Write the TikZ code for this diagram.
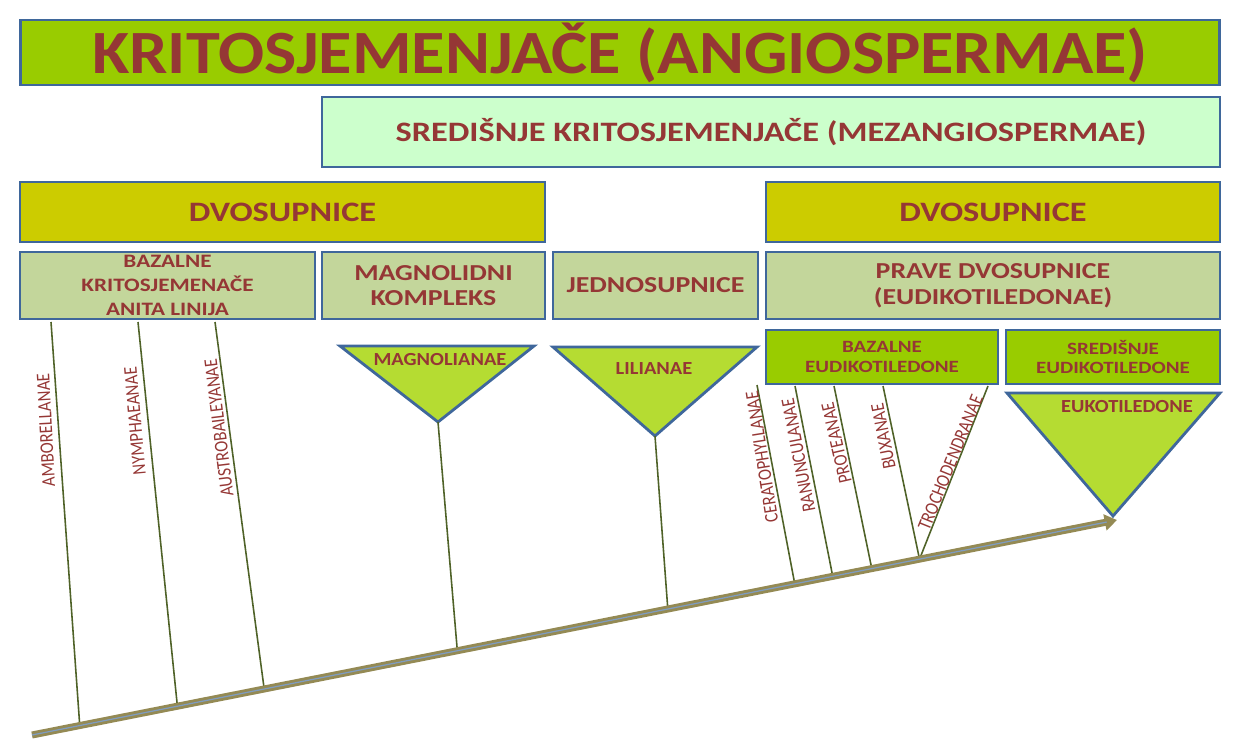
\documentclass[tikz,border=0pt]{standalone}
\usepackage{fontspec}
\setmainfont{Carlito}
\newfontfamily\widefont{Carlito}[FakeStretch=1.22]
\newfontfamily\midfont{Carlito}[FakeStretch=1.11]
\newfontfamily\narrowfont{Carlito}[FakeStretch=0.86]
\usetikzlibrary{arrows.meta}
\definecolor{txtred}{HTML}{953735}
\definecolor{edgeblue}{HTML}{3F679B}
\definecolor{limegreen}{HTML}{99CC00}
\definecolor{mintgreen}{HTML}{CCFFCC}
\definecolor{olivebox}{HTML}{CCCC00}
\definecolor{sagegreen}{HTML}{C3D69B}
\definecolor{trigreen}{HTML}{B5DC32}
\definecolor{stemgreen}{HTML}{4F6228}
\definecolor{axisbrown}{HTML}{948A54}
\definecolor{axisblue}{HTML}{7F9CC0}
\begin{document}
\begin{tikzpicture}[x=0.02cm, y=-0.02cm,
  every node/.style={text=txtred, font=\bfseries},
  box/.style={draw=edgeblue, line width=1.6pt, inner sep=0pt, align=center},
  stem/.style={stemgreen, line width=0.9pt},
  taxon/.style={font=\narrowfont\fontsize{11}{12}\selectfont, inner sep=0pt},
  fan/.style={draw=edgeblue, fill=trigreen, line width=1.6pt, line join=miter}]
  \useasboundingbox (0,0) rectangle (1237,747);
  % Header boxes
  \node[box, fill=limegreen, minimum width=24cm, minimum height=1.3cm,
    font=\midfont\fontsize{35}{40}\selectfont\bfseries] (angio) at (620,52.5) {KRITOSJEMENJAČE (ANGIOSPERMAE)};
  \node[box, fill=mintgreen, minimum width=17.96cm, minimum height=1.4cm,
    font=\widefont\fontsize{16}{19}\selectfont\bfseries] (mezangio) at (771,132) {SREDIŠNJE KRITOSJEMENJAČE (MEZANGIOSPERMAE)};
  \node[box, fill=olivebox, minimum width=10.5cm, minimum height=1.2cm,
    font=\widefont\fontsize{16}{19}\selectfont\bfseries] (dvoL) at (282.5,212) {DVOSUPNICE};
  \node[box, fill=olivebox, minimum width=9.08cm, minimum height=1.2cm,
    font=\widefont\fontsize{16}{19}\selectfont\bfseries] (dvoR) at (993,212) {DVOSUPNICE};
  % Group boxes
  \node[box, fill=sagegreen, minimum width=5.9cm, minimum height=1.34cm,
    font=\widefont\fontsize{10.8}{13.5}\selectfont\bfseries] (bazalne) at (167.5,285.5) {BAZALNE\\KRITOSJEMENAČE\\ANITA LINIJA};
  \node[box, fill=sagegreen, minimum width=4.46cm, minimum height=1.34cm,
    font=\widefont\fontsize{13}{14.7}\selectfont\bfseries] (magnolidni) at (433.5,285.5) {MAGNOLIDNI\\KOMPLEKS};
  \node[box, fill=sagegreen, minimum width=4.1cm, minimum height=1.34cm,
    font=\widefont\fontsize{13}{14.7}\selectfont\bfseries] (jedno) at (655.5,285.5) {JEDNOSUPNICE};
  \node[box, fill=sagegreen, minimum width=9.08cm, minimum height=1.34cm,
    font=\widefont\fontsize{13}{14.7}\selectfont\bfseries] (prave) at (993,285.5) {PRAVE DVOSUPNICE\\(EUDIKOTILEDONAE)};
  \node[box, fill=limegreen, minimum width=4.64cm, minimum height=1.08cm,
    font=\widefont\fontsize{9.8}{11.3}\selectfont\bfseries] (bazEud) at (882,357) {BAZALNE\\EUDIKOTILEDONE};
  \node[box, fill=limegreen, minimum width=4.28cm, minimum height=1.08cm,
    font=\widefont\fontsize{9.8}{11.3}\selectfont\bfseries] (sredEud) at (1113,357) {SREDIŠNJE\\EUDIKOTILEDONE};
  % Time axis
  \coordinate (base) at (32,735);
  \coordinate (tip) at (1117,520);
  \path (base) -- (tip)
    coordinate[pos=0.044] (pAmb) coordinate[pos=0.134] (pNym) coordinate[pos=0.214] (pAus)
    coordinate[pos=0.392] (pMag) coordinate[pos=0.586] (pLil) coordinate[pos=0.703] (pCer)
    coordinate[pos=0.738] (pRan) coordinate[pos=0.774] (pPro) coordinate[pos=0.818] (pBux);
  % Stems
  \coordinate (tAmb) at (51,322);
  \coordinate (tNym) at (138,322);
  \coordinate (tAus) at (215,322);
  \coordinate (tCer) at (757,385);
  \coordinate (tRan) at (795,386);
  \coordinate (tPro) at (834,386);
  \coordinate (tBux) at (883,386);
  \coordinate (tTro) at (988,386);
  \draw[stem] (tAmb) -- (pAmb);
  \draw[stem] (tNym) -- (pNym);
  \draw[stem] (tAus) -- (pAus);
  \draw[stem] (tCer) -- (pCer);
  \draw[stem] (tRan) -- (pRan);
  \draw[stem] (tPro) -- (pPro);
  \draw[stem] (tBux) -- (pBux);
  \draw[stem] (tTro) -- (pBux);
  % Clades as triangles
  \filldraw[fan] (340,346) -- (534,346) -- (438,422) coordinate (magTip) -- cycle;
  \filldraw[fan] (553,347) -- (757,347) -- (655,436) coordinate (lilTip) -- cycle;
  \filldraw[fan] (1007,393) -- (1220,393) -- (1113,516) coordinate (eukTip) -- cycle;
  \draw[stem] (magTip) -- (pMag);
  \draw[stem] (lilTip) -- (pLil);
  \node[font=\midfont\fontsize{10.5}{12}\selectfont\bfseries] (magnolianae) at (440,360) {MAGNOLIANAE};
  \node[font=\midfont\fontsize{10.5}{12}\selectfont\bfseries] (lilianae) at (654,369) {LILIANAE};
  \node[font=\midfont\fontsize{10.5}{12}\selectfont\bfseries] (eukot) at (1127,407) {EUKOTILEDONE};
  \draw[axisbrown, line width=4pt, -{Triangle[length=7pt,width=9pt]}] (base) -- (tip);
  \draw[axisblue, line width=0.7pt, shorten >=6pt] (base) -- (tip);
  % Taxon labels
  \node[taxon, rotate=93] (amb) at (46,430) {AMBORELLANAE};
  \node[taxon, rotate=95] (nym) at (135,421) {NYMPHAEANAE};
  \node[taxon, rotate=97] (aus) at (219,428) {AUSTROBAILEYANAE};
  \node[taxon, rotate=99] (cer) at (762,457) {CERATOPHYLLANAE};
  \node[taxon, rotate=101] (ran) at (798.5,455.5) {RANUNCULANAE};
  \node[taxon, rotate=103] (pro) at (836.5,443) {PROTEANAE};
  \node[taxon, rotate=101] (bux) at (883.5,436.5) {BUXANAE};
  \node[taxon, rotate=68] (tro) at (950.5,462.5) {TROCHODENDRANAE};
\end{tikzpicture}
\end{document}
